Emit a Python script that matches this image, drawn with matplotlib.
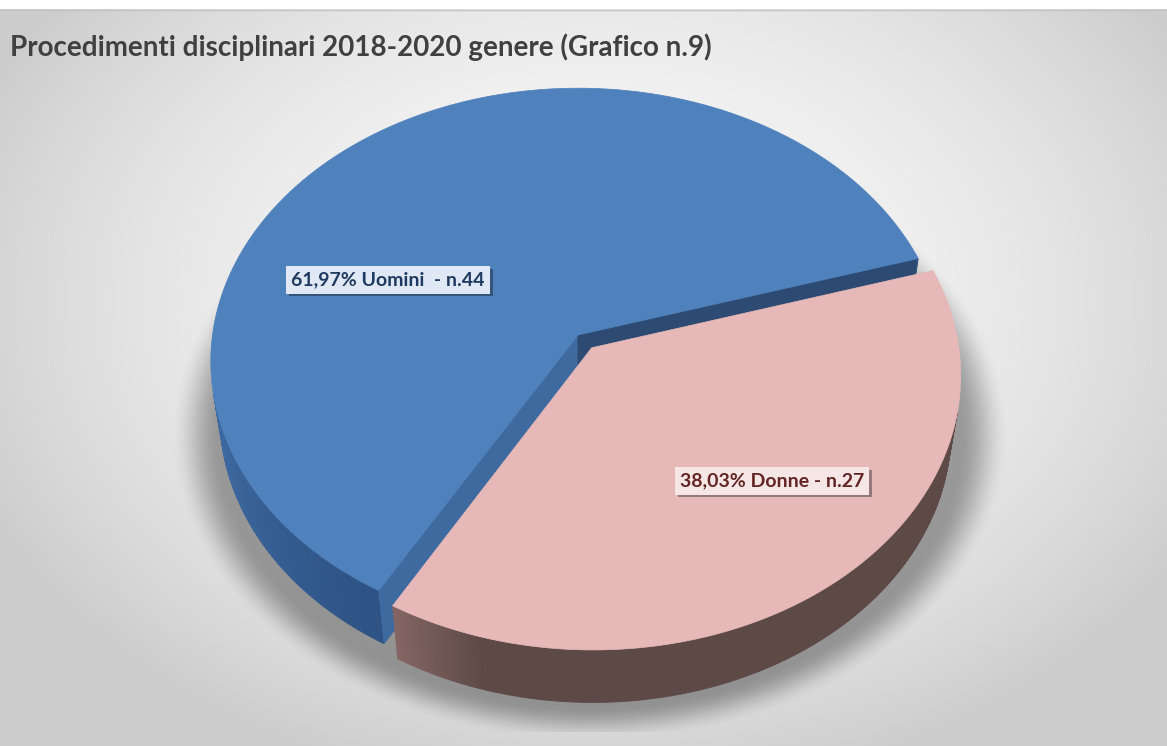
import numpy as np
import matplotlib
matplotlib.use('Agg')
import matplotlib.pyplot as plt
from matplotlib.patches import Polygon
from matplotlib.collections import PolyCollection
from matplotlib import patheffects
from matplotlib.colors import to_rgb

TITLE = 'Procedimenti disciplinari 2018-2020 genere (Grafico n.9)'
labels = ['Uomini', 'Donne']
counts = [44, 27]
label_gap = ['  - ', ' - ']
top_colors = ['#4f81bd', '#e6b9b8']
side_light = ['#3f6ba4', '#856664']
side_dark = ['#2e5384', '#5d4a47']
text_colors = ['#1f3a60', '#632523']
box_colors = ['#dfe8f4', '#f7e6e6']
explode = [0.0, 0.06]

FIRST_ANGLE = 210.0      # degrees, clockwise from 12 o'clock
W_PX, H_PX = 1167, 746

# 3-D view of the pie
ELEV = np.radians(49)
DIST = 7.0
THICK = 0.23
SCALE = 2495
CX, CY = 578, 335
SE, CE = np.sin(ELEV), np.cos(ELEV)
SY0 = THICK * CE / (DIST - THICK * SE)

LABEL_POS = [(388, 280), (772, 481)]


def project(X, Y, Wz):
    z = DIST - (Y * SE + Wz * CE)
    sx = X / z
    sy = (Y * CE - Wz * SE) / z
    return np.column_stack([CX + SCALE * sx, CY - SCALE * (sy - SY0)])


def mix(c1, c2, t):
    a, b = np.array(to_rgb(c1)), np.array(to_rgb(c2))
    return tuple(a + (b - a) * t)


fig = plt.figure(figsize=(W_PX / 100, H_PX / 100), dpi=100)
ax = fig.add_axes([0, 0, 1, 1])
ax.set_xlim(0, W_PX)
ax.set_ylim(H_PX, 0)
ax.axis('off')

# background: soft radial grey gradient, white band on top
yy, xx = np.mgrid[0:H_PX, 0:W_PX] + 0.5
d = np.sqrt(((xx - 600) / 650) ** 2 + ((yy - 300) / 480) ** 2)
bg = np.clip(248 - 40 * d ** 2, 204, 250) / 255
bg[yy < 9.5] = 1.0
ax.imshow(np.dstack([bg, bg, bg]), extent=(0, W_PX, H_PX, 0), zorder=0)
ax.plot([0, W_PX], [9.5, 9.5], color='#c4c4c4', lw=1, zorder=1)

# drop shadow below the pie
ds = np.sqrt(((xx - 590) / 385) ** 2 + ((yy - 435) / 282) ** 2)
t = np.clip((ds - 0.96) / 0.13, 0, 1)
sh_alpha = 0.34 * (1 - (3 * t ** 2 - 2 * t ** 3))
sh_alpha[yy > 732] = 0
sh_alpha[yy < 10] = 0
shadow = np.zeros((H_PX, W_PX, 4))
shadow[..., 3] = sh_alpha
ax.imshow(shadow, extent=(0, W_PX, H_PX, 0), zorder=2)

# slice angles (clockwise from the back)
total = sum(counts)
fracs = [c / total for c in counts]
starts, ends = [], []
a0 = FIRST_ANGLE
for f in fracs:
    starts.append(a0)
    ends.append(a0 + 360 * f)
    a0 += 360 * f

order = sorted(range(len(counts)),
               key=lambda i: -np.cos(np.radians((starts[i] + ends[i]) / 2)))

cam = np.array([0.0, DIST * SE, DIST * CE])
z = 3
for i in order:
    s, e = np.radians(starts[i]), np.radians(ends[i])
    mid = (s + e) / 2
    off = explode[i] * np.array([np.sin(mid), 0.0, -np.cos(mid)])
    ox, oz = off[0], off[2]

    # curved outer side, split into thin strips
    th = np.linspace(s, e, 240)
    polys, cols, depth = [], [], []
    for a1, a2 in zip(th[:-1], th[1:]):
        am = (a1 + a2) / 2
        n = np.array([np.sin(am), 0.0, -np.cos(am)])
        p = n + off
        if np.dot(n, cam - p) <= 0:
            continue
        xs = np.array([np.sin(a1), np.sin(a2), np.sin(a2), np.sin(a1)]) + ox
        ws = -np.array([np.cos(a1), np.cos(a2), np.cos(a2), np.cos(a1)]) + oz
        ys = np.array([THICK, THICK, 0, 0])
        polys.append(project(xs, ys, ws))
        deg = np.degrees(am) % 360
        if i == 0:
            k = np.clip((deg - 212) / 46, 0, 1)
        else:
            k = np.clip((deg - 196) / 14, 0, 1)
        cols.append(mix(side_dark[i], side_light[i], k))
        depth.append(np.dot(p - cam, p - cam))
    idx = np.argsort(depth)[::-1]
    pc = PolyCollection([polys[j] for j in idx], facecolors=[cols[j] for j in idx],
                        edgecolors=[cols[j] for j in idx], linewidths=0.6, zorder=z)
    ax.add_collection(pc)

    # flat cut faces that look toward the camera
    for ang, sign, col in [(s, -1, '#3f6aa0'), (e, 1, '#2c4a72')]:
        tdir = np.array([np.cos(ang), 0.0, np.sin(ang)]) * sign
        if np.dot(tdir, cam - off) <= 0:
            continue
        xs = np.array([0, np.sin(ang), np.sin(ang), 0]) + ox
        ws = np.array([0, -np.cos(ang), -np.cos(ang), 0]) + oz
        ys = np.array([THICK, THICK, 0, 0])
        ax.add_patch(Polygon(project(xs, ys, ws), closed=True, facecolor=col,
                             edgecolor=col, lw=0.6, zorder=z + 1))

    # top face
    th = np.linspace(s, e, 300)
    xs = np.concatenate([[0], np.sin(th)]) + ox
    ws = np.concatenate([[0], -np.cos(th)]) + oz
    ys = np.full(xs.shape, THICK)
    ax.add_patch(Polygon(project(xs, ys, ws), closed=True, facecolor=top_colors[i],
                         edgecolor=top_colors[i], lw=0.5, zorder=z + 2))
    z += 3

# data labels
for i in range(len(counts)):
    pct = f'{100 * fracs[i]:.2f}'.replace('.', ',')
    txt = f'{pct}% {labels[i]}{label_gap[i]}n.{counts[i]}'
    tx = ax.text(LABEL_POS[i][0], LABEL_POS[i][1], txt, ha='center', va='center',
                 fontsize=14, fontweight='bold', family=['Lato', 'DejaVu Sans'],
                 color=text_colors[i], zorder=20,
                 bbox=dict(boxstyle='square,pad=0.26', facecolor=box_colors[i],
                           edgecolor='none'))
    tx.get_bbox_patch().set_path_effects([
        patheffects.withSimplePatchShadow(offset=(2, -2), shadow_rgbFace='#000000', alpha=0.35),
        patheffects.Normal()])

ax.text(10, 47, TITLE, ha='left', va='center', fontsize=20, fontweight='bold',
        family=['Lato', 'DejaVu Sans'], color='#404040', zorder=20)

fig.savefig('out.png', dpi=100)
